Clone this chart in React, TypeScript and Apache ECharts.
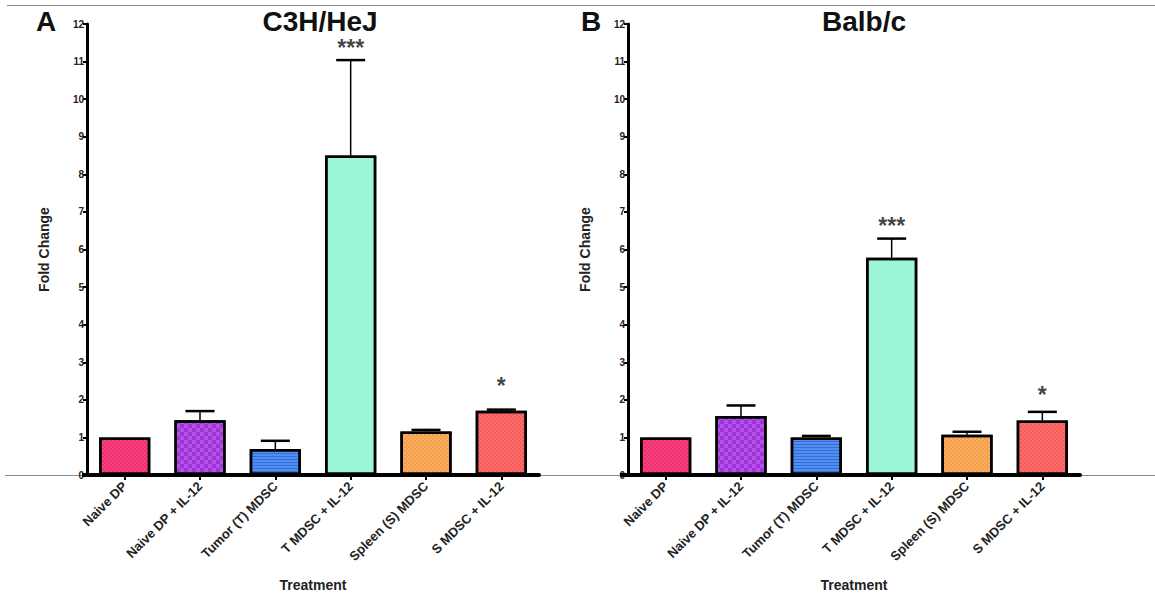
import React, { useEffect, useRef } from "react";
import * as echarts from "echarts";

const categories = [
  "Naive DP",
  "Naive DP + IL-12",
  "Tumor (T) MDSC",
  "T MDSC + IL-12",
  "Spleen (S) MDSC",
  "S MDSC + IL-12",
];

const yMin = 0;
const yMax = 12;
const yInterval = 1;

const c3hMean = [1.0, 1.46, 0.69, 8.5, 1.16, 1.71];
const c3hErrTop = [1.0, 1.7, 0.91, 11.04, 1.2, 1.74];
const c3hStars = ["", "", "", "***", "", "*"];
const c3hStarY = [null, null, null, 11.5, null, 2.5];

const balbMean = [1.0, 1.57, 1.0, 5.78, 1.07, 1.45];
const balbErrTop = [1.0, 1.85, 1.04, 6.29, 1.15, 1.68];
const balbStars = ["", "", "", "***", "", "*"];
const balbStarY = [null, null, null, 6.77, null, 2.26];

const barColors = ["#ff3f80", "#b94cf2", "#4f8ff7", "#9ef6d8", "#ffae5e", "#ff6b6b"];

const FONT = "Liberation Sans, Arial, Helvetica, sans-serif";

const decals: any[] = [
  { symbol: "rect", symbolSize: 1, dashArrayX: [[2, 2], [0, 2, 2, 0]], dashArrayY: [2, 0], color: "rgba(120,0,40,0.18)" },
  { symbol: "rect", symbolSize: 1, dashArrayX: [[4, 4], [0, 4, 4, 0]], dashArrayY: [4, 0], color: "rgba(60,0,90,0.25)" },
  { symbol: "rect", symbolSize: 1, dashArrayX: [[10, 0]], dashArrayY: [1, 2], color: "rgba(0,20,90,0.28)" },
  { symbol: "rect", symbolSize: 1, dashArrayX: [1, 3], dashArrayY: [[10, 0]], color: "rgba(0,90,60,0.15)" },
  { symbol: "rect", symbolSize: 1, dashArrayX: [[2, 2], [0, 2, 2, 0]], dashArrayY: [2, 0], color: "rgba(140,70,0,0.15)" },
  { symbol: "rect", symbolSize: 1, dashArrayX: [[2, 2], [0, 2, 2, 0]], dashArrayY: [2, 0], color: "rgba(140,0,0,0.12)" },
];

function makePanel(idx: number, left: number, mean: number[], errTop: number[], stars: string[], starY: (number | null)[]) {
  const grid = { left, top: 24, width: 452, height: 451, outerBoundsMode: "none", containLabel: false };
  const xAxis = {
    type: "category",
    gridIndex: idx,
    data: categories,
    boundaryGap: true,
    axisLine: { show: true, lineStyle: { color: "#000", width: 4 } },
    axisTick: { show: true, alignWithLabel: true, length: 5, lineStyle: { color: "#000", width: 2 } },
    axisLabel: { rotate: 45, interval: 0, fontSize: 13, fontWeight: "bold", color: "#222", margin: 9, fontFamily: FONT },
    name: "Treatment",
    nameLocation: "middle",
    nameGap: 103,
    nameTextStyle: { fontSize: 14, fontWeight: "bold", color: "#222", fontFamily: FONT },
  };
  const yAxis = {
    type: "value",
    gridIndex: idx,
    min: yMin,
    max: yMax,
    interval: yInterval,
    axisLine: { show: true, lineStyle: { color: "#000", width: 3 } },
    axisTick: { show: true, length: 4, lineStyle: { color: "#000", width: 2 } },
    axisLabel: { fontSize: 10, fontWeight: "bold", color: "#222", margin: 3, fontFamily: FONT },
    splitLine: { show: false },
    name: "Fold Change",
    nameLocation: "middle",
    nameGap: 36,
    nameRotate: 90,
    nameTextStyle: { fontSize: 14, fontWeight: "bold", color: "#222", fontFamily: FONT },
  };
  const bar = {
    type: "bar",
    xAxisIndex: idx,
    yAxisIndex: idx,
    barWidth: "68%",
    data: mean.map((v, i) => ({
      value: v,
      itemStyle: { color: barColors[i], borderColor: "#000", borderWidth: 2.5, decal: decals[i] },
    })),
    z: 2,
  };
  const err = {
    type: "custom",
    xAxisIndex: idx,
    yAxisIndex: idx,
    data: mean.map((v, i) => [i, v, errTop[i]]).filter((d) => d[2] > d[1]),
    encode: { x: 0, y: [1, 2] },
    z: 3,
    renderItem: (params: any, api: any) => {
      const x = api.value(0);
      const p0 = api.coord([x, api.value(1)]);
      const p1 = api.coord([x, api.value(2)]);
      const half = 14.5;
      return {
        type: "group",
        children: [
          { type: "line", shape: { x1: p0[0], y1: p0[1], x2: p1[0], y2: p1[1] }, style: { stroke: "#000", lineWidth: 1.5 } },
          { type: "line", shape: { x1: p1[0] - half, y1: p1[1], x2: p1[0] + half, y2: p1[1] }, style: { stroke: "#000", lineWidth: 2.5 } },
        ],
      };
    },
  };
  const sig = {
    type: "scatter",
    xAxisIndex: idx,
    yAxisIndex: idx,
    symbolSize: 0,
    z: 4,
    data: stars
      .map((s, i) => ({ s, i }))
      .filter((d) => d.s && starY[d.i] != null)
      .map((d) => ({ value: [d.i, starY[d.i]], label: { formatter: d.s } })),
    label: {
      show: true,
      position: "inside",
      fontSize: 23,
      fontWeight: "bold",
      color: "#111",
      offset: [0, 5],
      fontFamily: FONT,
    },
  };
  return { grid, xAxis, yAxis, series: [bar, err, sig] };
}

export default function App() {
  const ref = useRef<HTMLDivElement>(null);
  useEffect(() => {
    if (!ref.current) return;
    const chart = echarts.init(ref.current, undefined, { renderer: "svg" });
    const p0 = makePanel(0, 87, c3hMean, c3hErrTop, c3hStars, c3hStarY);
    const p1 = makePanel(1, 628, balbMean, balbErrTop, balbStars, balbStarY);
    const titleFont = `bold 28px ${FONT}`;
    chart.setOption({
      animation: false,
      backgroundColor: "#fff",
      grid: [p0.grid, p1.grid],
      xAxis: [p0.xAxis, p1.xAxis],
      yAxis: [p0.yAxis, p1.yAxis],
      series: [...p0.series, ...p1.series],
      graphic: [
        { type: "line", z: -1, shape: { x1: 7, y1: 5.5, x2: 1155, y2: 5.5 }, style: { stroke: "#8a8a8a", lineWidth: 1 } },
        { type: "line", z: -1, shape: { x1: 5, y1: 475.5, x2: 1155, y2: 475.5 }, style: { stroke: "#8a8a8a", lineWidth: 1 } },
        { type: "line", z: 5, shape: { x1: 82, y1: 475, x2: 88, y2: 475 }, style: { stroke: "#000", lineWidth: 4 } },
        { type: "line", z: 5, shape: { x1: 620, y1: 475, x2: 629, y2: 475 }, style: { stroke: "#000", lineWidth: 4 } },
        { type: "text", x: 36, y: 21, style: { text: "A", font: titleFont, fill: "#111", verticalAlign: "middle" } },
        { type: "text", x: 320, y: 21, style: { text: "C3H/HeJ", font: titleFont, fill: "#111", align: "center", verticalAlign: "middle" } },
        { type: "text", x: 581, y: 21, style: { text: "B", font: titleFont, fill: "#111", verticalAlign: "middle" } },
        { type: "text", x: 864, y: 21, style: { text: "Balb/c", font: titleFont, fill: "#111", align: "center", verticalAlign: "middle" } },
      ],
    });
    return () => chart.dispose();
  }, []);
  return <div ref={ref} style={{ position: "fixed", left: 0, top: 0, width: 1155, height: 596 }} />;
}
